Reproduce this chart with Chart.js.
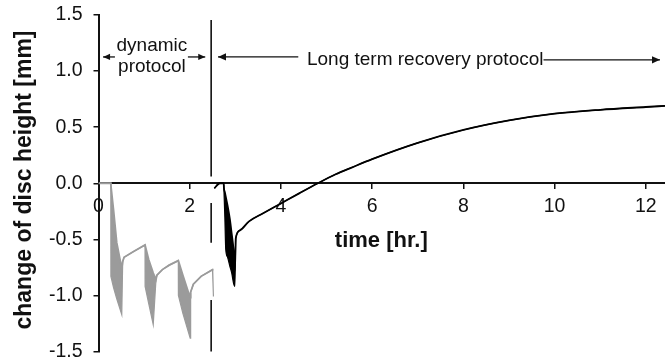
<!DOCTYPE html>
<html><head><meta charset="utf-8">
<script src="https://cdn.jsdelivr.net/npm/chart.js@4"></script>
<style>html,body{margin:0;padding:0;background:#fff}canvas{display:block}</style>
</head><body>
<canvas id="c" width="665" height="361"></canvas>
<script>
// ---- data ----
const xTickValues = [0, 2, 4, 6, 8, 10, 12];
const yTickValues = [-1.5, -1.0, -0.5, 0.0, 0.5, 1.0, 1.5];

// dynamic protocol (grey): time, upper and lower envelope of the oscillation band
const dynT   = [0, 0.27, 0.272, 0.33, 0.40, 0.51, 0.53, 0.56, 0.76, 1.02, 1.022, 1.10, 1.20, 1.26, 1.28, 1.40, 1.55, 1.75, 1.752, 1.85, 2.01, 2.02, 2.08, 2.25, 2.50, 2.52];
const dynUp  = [0, 0, -0.02, -0.24, -0.53, -0.76, -0.70, -0.66, -0.61, -0.55, -0.55, -0.68, -0.80, -0.86, -0.82, -0.77, -0.73, -0.69, -0.69, -0.82, -1.02, -0.97, -0.90, -0.83, -0.77, -0.77];
const dynLow = [0, 0, -0.83, -0.93, -1.03, -1.17, -0.70, -0.66, -0.61, -0.55, -0.92, -1.07, -1.26, -0.86, -0.82, -0.77, -0.73, -0.69, -1.00, -1.16, -1.38, -0.97, -0.90, -0.83, -0.77, -1.01];

// long term recovery protocol (black): time, upper and lower envelope
const recT   = [2.54, 2.66, 2.745, 2.75, 2.77, 2.79, 2.83, 2.88, 2.92, 2.96, 2.99, 3.01, 3.1, 3.3, 3.6, 4.0, 4.4, 4.81, 5.2, 5.55, 6.0, 7.0, 8.0, 9.0, 10.0, 11.0, 12.0, 12.42];
const recUp  = [-0.045, 0, 0, -0.04, -0.08, -0.12, -0.20, -0.32, -0.45, -0.59, -0.78, -0.49, -0.42, -0.34, -0.27, -0.18, -0.09, 0, 0.08, 0.14, 0.215, 0.36, 0.475, 0.56, 0.62, 0.655, 0.68, 0.69];
const recLow = [-0.045, 0, 0, -0.06, -0.30, -0.59, -0.66, -0.74, -0.80, -0.89, -0.92, -0.49, -0.42, -0.34, -0.27, -0.18, -0.09, 0, 0.08, 0.14, 0.215, 0.36, 0.475, 0.56, 0.62, 0.655, 0.68, 0.69];

const xy = (ts, vs) => ts.map((t, i) => ({x: t, y: vs[i]}));
const FONT = '"Liberation Sans", Arial, sans-serif';
const GREY = '#9b9b9b';
const INK = '#111';

function arrow(ctx, x1, y1, x2, y2, head) {
  ctx.beginPath(); ctx.moveTo(x1, y1); ctx.lineTo(x2, y2); ctx.stroke();
  const a = Math.atan2(y2 - y1, x2 - x1), w = head * 0.45;
  ctx.beginPath();
  ctx.moveTo(x2, y2);
  ctx.lineTo(x2 - head * Math.cos(a) + w * Math.sin(a), y2 - head * Math.sin(a) - w * Math.cos(a));
  ctx.lineTo(x2 - head * Math.cos(a) - w * Math.sin(a), y2 - head * Math.sin(a) + w * Math.cos(a));
  ctx.closePath(); ctx.fill();
}

const annot = {
  id: 'annot',
  afterDraw(chart) {
    const ctx = chart.ctx, xs = chart.scales.x, ys = chart.scales.y;
    const X = v => xs.getPixelForValue(v), Y = v => ys.getPixelForValue(v);
    ctx.save();
    ctx.fillStyle = INK; ctx.strokeStyle = INK;
    // phase separator (broken line)
    ctx.lineWidth = 1.6;
    [[1.455, 0.06], [-0.175, -0.53], [-1.04, -1.5]].forEach(([a, b]) => {
      ctx.beginPath(); ctx.moveTo(X(2.47), Y(a)); ctx.lineTo(X(2.47), Y(b)); ctx.stroke();
    });
    // labels
    ctx.font = '19px ' + FONT;
    ctx.textAlign = 'center'; ctx.textBaseline = 'middle';
    ctx.fillText('dynamic', X(1.17), Y(1.23));
    ctx.fillText('protocol', X(1.17), Y(1.036));
    ctx.lineWidth = 1.3;
    arrow(ctx, X(0.36), Y(1.126), X(0.10), Y(1.126), 7);
    arrow(ctx, X(1.96), Y(1.126), X(2.34), Y(1.126), 7);
    arrow(ctx, X(4.38), Y(1.126), X(2.62), Y(1.126), 8);
    ctx.textAlign = 'left';
    const txt = 'Long term recovery protocol';
    const tx = X(4.57);
    ctx.fillText(txt, tx, Y(1.10));
    const tw = ctx.measureText(txt).width;
    arrow(ctx, tx + tw, Y(1.10), X(12.31), Y(1.10), 8);
    // x axis title
    ctx.font = 'bold 22px ' + FONT;
    ctx.textAlign = 'center';
    ctx.fillText('time [hr.]', X(6.2), Y(-0.51));
    // y axis title
    ctx.translate(25, 180);
    ctx.rotate(-Math.PI / 2);
    ctx.font = 'bold 23px ' + FONT;
    ctx.fillText('change of disc height [mm]', 0, 0);
    ctx.restore();
  }
};

const smooth = {pointRadius: 0, cubicInterpolationMode: 'monotone'};

new Chart(document.getElementById('c'), {
  type: 'line',
  data: {
    datasets: [
      {data: xy(dynT, dynUp), pointRadius: 0, borderColor: GREY, borderWidth: 1.8, fill: false},
      {data: xy(dynT, dynLow), pointRadius: 0, borderColor: GREY, backgroundColor: GREY, borderWidth: 1.2, fill: '-1'},
      {...smooth, data: xy(recT, recUp), borderColor: '#000', borderWidth: 1.8, fill: false},
      {...smooth, data: xy(recT, recLow), borderColor: '#000', backgroundColor: '#000', borderWidth: 1.2, fill: '-1'}
    ]
  },
  options: {
    responsive: false,
    animation: false,
    events: [],
    layout: {padding: {top: 15, bottom: 9.5, left: 0, right: 0}},
    plugins: {legend: {display: false}, tooltip: {enabled: false}},
    scales: {
      x: {
        type: 'linear', position: {y: 0}, min: 0, max: 12.42,
        afterBuildTicks: s => { s.ticks = xTickValues.map(v => ({value: v})); },
        afterFit: s => { s.paddingLeft = 0; s.paddingRight = 0; },
        ticks: {font: {size: 19.5, family: FONT}, color: INK, padding: 7, maxRotation: 0, autoSkip: false,
                callback: v => String(v)},
        grid: {drawOnChartArea: false, drawTicks: true, tickLength: 5, color: INK, lineWidth: 1.5},
        border: {display: true, color: INK, width: 2}
      },
      y: {
        type: 'linear', position: 'left', min: -1.5, max: 1.5,
        afterBuildTicks: s => { s.ticks = yTickValues.map(v => ({value: v})); },
        afterFit: s => { s.width = 98.5; s.paddingTop = 0; s.paddingBottom = 0; },
        ticks: {font: {size: 19.5, family: FONT}, color: INK, padding: 11, autoSkip: false,
                callback: v => v.toFixed(1)},
        grid: {drawOnChartArea: false, drawTicks: true, tickLength: 5, color: INK, lineWidth: 1.5},
        border: {display: true, color: INK, width: 2}
      }
    }
  },
  plugins: [annot]
});
</script>
</body></html>
